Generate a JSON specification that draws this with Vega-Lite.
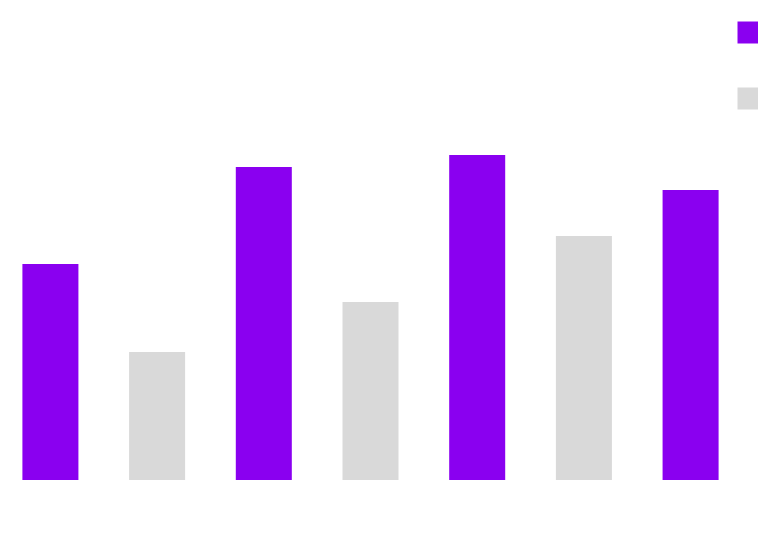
{
  "$schema": "https://vega.github.io/schema/vega-lite/v6.json",
  "autosize": {"type": "none"},
  "padding": {"top": 100, "left": 0, "right": 17, "bottom": 69},
  "width": 741,
  "height": 380,
  "background": "#ffffff",
  "config": {
    "view": {"stroke": null},
    "font": "Liberation Sans"
  },
  "title": {
    "text": "Visitors by country",
    "anchor": "start",
    "frame": "group",
    "fontSize": 48,
    "fontWeight": "normal",
    "color": "#ffffff",
    "baseline": "alphabetic",
    "offset": 0,
    "dy": 78,
    "dx": 3
  },
  "data": {
    "values": [
      {"bar": 1, "country": "USA", "visitors": 216},
      {"bar": 2, "country": "Canada", "visitors": 128},
      {"bar": 3, "country": "USA", "visitors": 313},
      {"bar": 4, "country": "Canada", "visitors": 178},
      {"bar": 5, "country": "USA", "visitors": 325},
      {"bar": 6, "country": "Canada", "visitors": 244},
      {"bar": 7, "country": "USA", "visitors": 290}
    ]
  },
  "mark": {"type": "bar"},
  "encoding": {
    "x": {
      "field": "bar",
      "type": "ordinal",
      "scale": {"paddingInner": 0.475, "paddingOuter": 0.21},
      "axis": {
        "title": null,
        "domain": false,
        "ticks": false,
        "labelAngle": 0,
        "labelColor": "#ffffff",
        "labelFontSize": 31,
        "labelPadding": 23,
        "labelExpr": "datum.value == 1 ? 'Jan' : datum.value == 3 ? 'Feb' : datum.value == 5 ? 'Mar' : datum.value == 7 ? 'May' : ''"
      }
    },
    "y": {
      "field": "visitors",
      "type": "quantitative",
      "scale": {"domain": [0, 380], "nice": false},
      "axis": null
    },
    "color": {
      "field": "country",
      "type": "nominal",
      "scale": {"domain": ["USA", "Canada"], "range": ["#8A00F0", "#D9D9D9"]},
      "legend": {
        "title": null,
        "orient": "none",
        "legendX": 733,
        "legendY": -83,
        "padding": 0,
        "symbolType": "square",
        "symbolSize": 484,
        "symbolStrokeWidth": 0,
        "symbolOpacity": 1,
        "labelAlign": "right",
        "labelOffset": -46,
        "labelFontSize": 31,
        "labelColor": "#ffffff",
        "labelLimit": 300,
        "rowPadding": 34
      }
    }
  }
}
